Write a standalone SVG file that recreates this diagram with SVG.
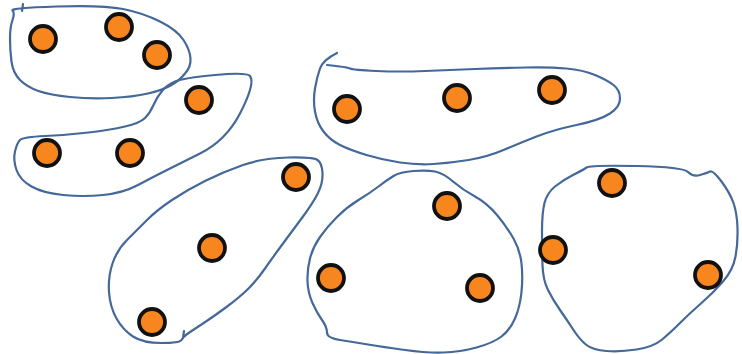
<svg xmlns="http://www.w3.org/2000/svg" width="742" height="354" viewBox="0 0 742 354">
<style>
.blob{fill:none;stroke:#44689A;stroke-width:2.2;stroke-linejoin:round;stroke-linecap:round}
.dot{fill:#F7861F;stroke:#111;stroke-width:3.8}
</style>
<rect width="742" height="354" fill="#fff"/>
<g id="outlines">
<path class="blob" d="M12.5,10.5 Q10,8 56.5,6.5 Q103,5 123,9 Q143,13 160,21.5 Q177,30 183.5,40 Q190,50 190.5,58.5 Q191,67 185,73.5 Q180,80 171.5,85 Q163,90 148,93.5 Q133,97 111.5,98 Q90,99 70,97 Q50,95 38.5,91 Q27,87 20,80 Q13,73 11.5,61.5 Q10,50 10,38.5 Q10,27 12.5,20 Q15,13 12.5,10.5 Z M23,4 L22,11"/>
<path class="blob" d="M175,81.5 Q183,78 215,75 Q247,72 250,76 Q253,80 250,90 Q247,100 240,113.5 Q233,127 223,137 Q213,147 200,153.5 Q187,160 170,168.5 Q153,177 138,185 Q123,193 103,195 Q83,197 63,195 Q43,193 31.5,186.5 Q20,180 16.5,170 Q13,160 15,151.5 Q17,143 20,140 Q23,137 45,136 Q67,135 88.5,132.5 Q110,130 125,126.5 Q140,123 145,118 Q150,113 153.5,105 Q157,97 162,91 Q167,85 175,81.5 Z"/>
<path class="blob" d="M337,53 Q323,60 320,68.5 Q317,77 315,88.5 Q313,100 315,111.5 Q317,123 323.5,131.5 Q330,140 340,145 Q350,150 366.5,155 Q383,160 400,162.5 Q417,165 433.5,164 Q450,163 468.5,160 Q487,157 503.5,150 Q520,143 536.5,136.5 Q553,130 576.5,125 Q600,120 610,113.5 Q620,107 620,98.5 Q620,90 613.5,85 Q607,80 595,75 Q583,70 566.5,68.5 Q550,67 525,67.5 Q500,68 475,69 Q450,70 425,71 Q400,72 376.5,71 Q353,70 350,68.5 Q347,67 327,65"/>
<path class="blob" d="M243,165 Q263,158 288,157.5 Q313,157 317.5,160 Q322,163 322.5,173 Q323,183 318,193 Q313,203 303,216.5 Q293,230 283,243.5 Q273,257 265,268.5 Q257,280 248.5,288.5 Q240,297 226.5,307 Q213,317 201.5,324.5 Q190,332 186.5,334.5 Q183,337 181.5,340 Q180,343 161.5,343 Q143,343 133,336.5 Q123,330 116.5,318.5 Q110,307 109,292 Q108,277 112.5,263.5 Q117,250 127,240 Q137,230 147,220 Q157,210 172,200 Q187,190 205,181 Q223,172 243,165 Z M184,331 L183,338"/>
<path class="blob" d="M393.5,176 Q400,172 413.5,171 Q427,170 435,171.5 Q443,173 453,181.5 Q463,190 475,196.5 Q487,203 497,215 Q507,227 513.5,238.5 Q520,250 521.5,263.5 Q523,277 521.5,292 Q520,307 515,318.5 Q510,330 501.5,336.5 Q493,343 476.5,347.5 Q460,352 443.5,352.5 Q427,353 405,350 Q383,347 368,344.5 Q353,342 340,340 Q327,338 327,332.5 Q327,327 322,320 Q317,313 312.5,303 Q308,293 307.5,281.5 Q307,270 310,258.5 Q313,247 320,237 Q327,227 337,217 Q347,207 358.5,200 Q370,193 378.5,186.5 Q387,180 393.5,176 Z"/>
<path class="blob" d="M586.5,167.5 Q590,165 636.5,166 Q683,167 688,172 Q693,177 700,175 Q707,173 710,171.5 Q713,170 721.5,181.5 Q730,193 733.5,203 Q737,213 737.5,228 Q738,243 735.5,256.5 Q733,270 723,281.5 Q713,293 701.5,303 Q690,313 680,323 Q670,333 661.5,340 Q653,347 636.5,349.5 Q620,352 606.5,351 Q593,350 586.5,345 Q580,340 573.5,330 Q567,320 560,310 Q553,300 548,290 Q543,280 542.5,265 Q542,250 542,231.5 Q542,213 544.5,203 Q547,193 555,186.5 Q563,180 573,175 Q583,170 586.5,167.5 Z"/>
</g>
<g id="dots">
<circle class="dot" cx="43" cy="39" r="13"/>
<circle class="dot" cx="119" cy="27" r="13"/>
<circle class="dot" cx="157" cy="55" r="13"/>
<circle class="dot" cx="199" cy="100" r="13"/>
<circle class="dot" cx="47" cy="153" r="13"/>
<circle class="dot" cx="130" cy="153" r="13"/>
<circle class="dot" cx="347" cy="109" r="13"/>
<circle class="dot" cx="457" cy="98" r="13"/>
<circle class="dot" cx="552" cy="90" r="13"/>
<circle class="dot" cx="296" cy="177" r="13"/>
<circle class="dot" cx="212" cy="248" r="13"/>
<circle class="dot" cx="152" cy="322" r="13"/>
<circle class="dot" cx="447" cy="206" r="13"/>
<circle class="dot" cx="331" cy="278" r="13"/>
<circle class="dot" cx="480" cy="288" r="13"/>
<circle class="dot" cx="612" cy="183" r="13"/>
<circle class="dot" cx="553" cy="250" r="13"/>
<circle class="dot" cx="708" cy="275" r="13"/>
</g>
</svg>
